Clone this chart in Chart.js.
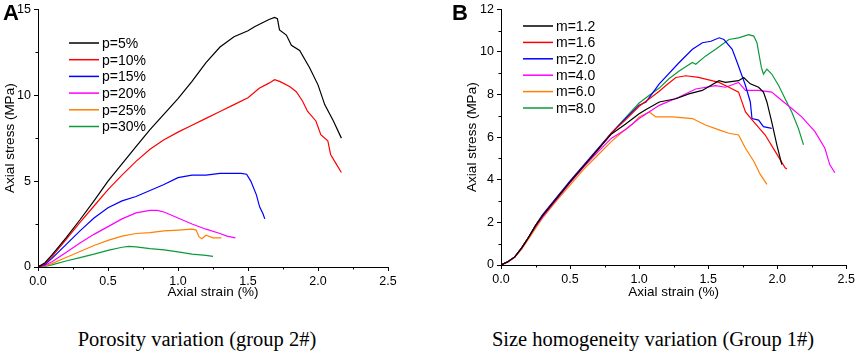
<!DOCTYPE html>
<html>
<head>
<meta charset="utf-8">
<script src="https://cdn.jsdelivr.net/npm/chart.js@4.4.1/dist/chart.umd.min.js"></script>
<style>
  body { margin: 0; background: #fff; width: 858px; height: 357px; overflow: hidden; position: relative; }
  .box { position: absolute; top: 0; height: 302px; }
  .tag { position: absolute; font: bold 22px "Liberation Sans", Arial, sans-serif; line-height: 1; }
  .cap { position: absolute; top: 328px; font: 20.5px "Liberation Serif", "Times New Roman", serif; white-space: nowrap; transform: translateX(-50%); }
</style>
</head>
<body>
<div class="box" style="left:0;width:425px"><canvas id="chartA"></canvas></div>
<div class="box" style="left:462px;width:396px"><canvas id="chartB"></canvas></div>
<div class="tag" style="left:3px;top:2px">A</div>
<div class="tag" style="left:452px;top:2px">B</div>
<div class="cap" style="left:197px">Porosity variation (group 2#)</div>
<div class="cap" style="left:653px">Size homogeneity variation (Group 1#)</div>
<script>
// panel A - porosity
const labelsA = ['p=5%', 'p=10%', 'p=15%', 'p=20%', 'p=25%', 'p=30%'];
const strainP5 = [0, 0.05, 0.1, 0.2, 0.3, 0.4, 0.5, 0.6, 0.7, 0.8, 0.9, 1.0, 1.1, 1.2, 1.3, 1.4, 1.5, 1.55, 1.6, 1.65, 1.69, 1.71, 1.725, 1.774, 1.81, 1.869, 1.94, 2.0, 2.048, 2.11, 2.167];
const stressP5 = [0, 0.25, 0.7, 1.7, 2.75, 3.85, 5.0, 6.0, 7.0, 8.0, 8.9, 9.8, 10.8, 11.9, 12.8, 13.4, 13.75, 14.0, 14.2, 14.4, 14.52, 14.45, 13.8, 13.5, 12.9, 12.6, 11.6, 10.6, 9.45, 8.5, 7.5];
const strainP10 = [0, 0.05, 0.1, 0.2, 0.3, 0.4, 0.5, 0.6, 0.7, 0.8, 0.9, 1.0, 1.1, 1.2, 1.3, 1.4, 1.5, 1.58, 1.65, 1.69, 1.726, 1.797, 1.845, 1.89, 1.926, 1.985, 2.02, 2.07, 2.09, 2.13, 2.167];
const stressP10 = [0, 0.2, 0.6, 1.6, 2.6, 3.55, 4.5, 5.35, 6.15, 6.85, 7.4, 7.85, 8.25, 8.65, 9.05, 9.45, 9.85, 10.4, 10.7, 10.9, 10.8, 10.5, 10.2, 9.65, 9.05, 8.5, 7.7, 7.35, 6.55, 6.0, 5.5];
const strainP15 = [0, 0.05, 0.1, 0.2, 0.3, 0.4, 0.5, 0.6, 0.7, 0.8, 0.9, 1.0, 1.1, 1.2, 1.3, 1.4, 1.45, 1.49, 1.52, 1.56, 1.583, 1.607, 1.62];
const stressP15 = [0, 0.15, 0.5, 1.3, 2.1, 2.85, 3.45, 3.85, 4.1, 4.45, 4.8, 5.2, 5.35, 5.35, 5.45, 5.45, 5.45, 5.4, 5.0, 4.2, 3.5, 3.1, 2.8];
const strainP20 = [0, 0.05, 0.1, 0.2, 0.3, 0.4, 0.5, 0.6, 0.7, 0.8, 0.85, 0.9, 1.0, 1.1, 1.2, 1.3, 1.35, 1.41];
const stressP20 = [0, 0.1, 0.3, 0.85, 1.4, 1.9, 2.35, 2.8, 3.15, 3.3, 3.3, 3.2, 2.85, 2.5, 2.2, 1.95, 1.8, 1.7];
const strainP25 = [0, 0.05, 0.1, 0.2, 0.3, 0.4, 0.5, 0.6, 0.7, 0.8, 0.9, 1.0, 1.1, 1.13, 1.15, 1.17, 1.2, 1.25, 1.31];
const stressP25 = [0, 0.07, 0.2, 0.55, 0.9, 1.25, 1.55, 1.8, 1.95, 2.0, 2.1, 2.15, 2.2, 2.15, 1.75, 1.65, 1.85, 1.7, 1.7];
const strainP30 = [0, 0.05, 0.1, 0.2, 0.3, 0.4, 0.5, 0.6, 0.65, 0.7, 0.8, 0.9, 1.0, 1.1, 1.2, 1.25];
const stressP30 = [0, 0.04, 0.12, 0.35, 0.55, 0.75, 0.97, 1.15, 1.2, 1.17, 1.07, 1.0, 0.88, 0.75, 0.68, 0.62];

// panel B - size homogeneity
const labelsB = ['m=1.2', 'm=1.6', 'm=2.0', 'm=4.0', 'm=6.0', 'm=8.0'];
const strainM12 = [0, 0.05, 0.1, 0.15, 0.2, 0.25, 0.3, 0.4, 0.5, 0.6, 0.7, 0.8, 0.9, 1.0, 1.05, 1.146, 1.266, 1.36, 1.457, 1.578, 1.625, 1.72, 1.757, 1.805, 1.865, 1.9, 1.925, 1.96, 1.997, 2.033];
const stressM12 = [0, 0.15, 0.38, 0.8, 1.3, 1.85, 2.3, 3.1, 3.9, 4.65, 5.4, 6.15, 6.6, 7.1, 7.3, 7.65, 7.8, 8.03, 8.19, 8.65, 8.57, 8.65, 8.8, 8.5, 8.34, 8.11, 7.65, 6.72, 5.64, 4.71];
const strainM16 = [0, 0.05, 0.1, 0.15, 0.2, 0.25, 0.3, 0.4, 0.5, 0.6, 0.7, 0.8, 0.9, 1.0, 1.074, 1.146, 1.194, 1.266, 1.338, 1.43, 1.578, 1.65, 1.72, 1.77, 1.83, 1.913, 1.985, 2.057, 2.07];
const stressM16 = [0, 0.15, 0.38, 0.8, 1.3, 1.85, 2.3, 3.1, 3.9, 4.65, 5.4, 6.2, 6.8, 7.45, 7.8, 8.15, 8.42, 8.8, 8.88, 8.8, 8.57, 8.34, 8.11, 7.18, 6.72, 6.1, 5.33, 4.56, 4.5];
const strainM20 = [0, 0.05, 0.1, 0.15, 0.2, 0.25, 0.3, 0.4, 0.5, 0.6, 0.7, 0.8, 0.9, 1.0, 1.05, 1.146, 1.29, 1.386, 1.458, 1.52, 1.58, 1.614, 1.674, 1.71, 1.77, 1.805, 1.817, 1.865, 1.9, 1.96];
const stressM20 = [0, 0.15, 0.38, 0.8, 1.3, 1.85, 2.35, 3.15, 3.95, 4.7, 5.45, 6.2, 6.85, 7.5, 7.65, 8.5, 9.5, 10.12, 10.43, 10.5, 10.66, 10.58, 10.12, 9.5, 8.42, 7.65, 6.87, 6.8, 6.49, 6.41];
const strainM40 = [0, 0.05, 0.1, 0.15, 0.2, 0.25, 0.3, 0.4, 0.5, 0.6, 0.7, 0.8, 0.9, 1.0, 1.146, 1.29, 1.41, 1.554, 1.625, 1.72, 1.77, 1.865, 1.96, 2.033, 2.105, 2.177, 2.273, 2.345, 2.38, 2.417];
const stressM40 = [0, 0.15, 0.38, 0.8, 1.3, 1.8, 2.25, 3.05, 3.85, 4.6, 5.3, 5.95, 6.35, 6.87, 7.49, 7.88, 8.26, 8.42, 8.34, 8.57, 8.19, 8.19, 8.11, 7.72, 7.34, 6.95, 6.26, 5.48, 4.71, 4.33];
const strainM60 = [0, 0.05, 0.1, 0.15, 0.2, 0.25, 0.3, 0.4, 0.5, 0.6, 0.7, 0.8, 0.882, 0.95, 1.0, 1.074, 1.12, 1.242, 1.386, 1.48, 1.578, 1.65, 1.72, 1.77, 1.83, 1.877, 1.925];
const stressM60 = [0, 0.15, 0.36, 0.75, 1.22, 1.72, 2.2, 3.0, 3.75, 4.5, 5.15, 5.8, 6.26, 6.6, 6.95, 7.18, 6.95, 6.95, 6.87, 6.57, 6.34, 6.18, 6.1, 5.48, 4.87, 4.25, 3.78];
const strainM80 = [0, 0.05, 0.1, 0.15, 0.2, 0.25, 0.3, 0.4, 0.5, 0.6, 0.7, 0.8, 0.9, 1.0, 1.074, 1.146, 1.218, 1.29, 1.385, 1.41, 1.48, 1.554, 1.65, 1.72, 1.793, 1.83, 1.853, 1.87, 1.885, 1.9, 1.925, 1.96, 2.01, 2.057, 2.105, 2.153, 2.19];
const stressM80 = [0, 0.15, 0.38, 0.8, 1.3, 1.85, 2.3, 3.1, 3.9, 4.65, 5.4, 6.2, 6.9, 7.6, 7.96, 8.3, 8.75, 9.1, 9.5, 9.42, 9.8, 10.12, 10.58, 10.66, 10.81, 10.74, 10.43, 9.81, 9.27, 8.96, 9.19, 8.96, 8.42, 7.8, 7.18, 6.41, 5.64];

const colors = ['#000000', '#ff0000', '#0000ff', '#ff00ff', '#ff8000', '#0a9a3a'];
const xTicks = ['0.0', '0.5', '1.0', '1.5', '2.0', '2.5'];

const FONT = '"Liberation Sans", Arial, sans-serif';

function pairs(xs, ys) {
  return xs.map((x, i) => ({ x: x, y: ys[i] }));
}

function makeSets(labels, series) {
  return series.map((s, i) => ({
    label: labels[i],
    data: pairs(s[0], s[1]),
    showLine: true,
    borderColor: colors[i],
    backgroundColor: colors[i],
    borderWidth: 1.2,
    pointRadius: 0,
    tension: 0
  }));
}

// legend drawn inside the plot
const insideLegend = {
  id: 'insideLegend',
  afterDatasetsDraw(chart, args, opts) {
    const ctx = chart.ctx;
    ctx.save();
    ctx.font = '14px ' + FONT;
    ctx.textBaseline = 'middle';
    chart.data.datasets.forEach((ds, i) => {
      const y = opts.y + i * opts.dy;
      ctx.strokeStyle = ds.borderColor;
      ctx.lineWidth = 1.5;
      ctx.beginPath();
      ctx.moveTo(opts.x, y);
      ctx.lineTo(opts.x + 30, y);
      ctx.stroke();
      ctx.fillStyle = '#000';
      ctx.fillText(ds.label, opts.x + 33, y + 1);
    });
    ctx.restore();
  }
};

// small in-between ticks
const minorTicks = {
  id: 'minorTicks',
  afterDraw(chart, args, opts) {
    const ctx = chart.ctx;
    const xs = chart.scales.x, ys = chart.scales.y;
    ctx.save();
    ctx.strokeStyle = '#000';
    ctx.lineWidth = 1;
    ctx.beginPath();
    for (let v = opts.xMinor; v < xs.max; v += opts.xMinor * 2) {
      const px = Math.round(xs.getPixelForValue(v)) + 0.5;
      ctx.moveTo(px, xs.top);
      ctx.lineTo(px, xs.top + 2.5);
    }
    for (let v = opts.yMinor; v < ys.max; v += opts.yMinor * 2) {
      const py = Math.round(ys.getPixelForValue(v)) + 0.5;
      ctx.moveTo(ys.right, py);
      ctx.lineTo(ys.right - 2.5, py);
    }
    ctx.stroke();
    ctx.restore();
  }
};

function makeChart(id, sets, yMax, yStep, axisW, axisH, pad, legend) {
  return new Chart(document.getElementById(id), {
    type: 'scatter',
    data: { datasets: sets },
    options: {
      responsive: true,
      maintainAspectRatio: false,
      animation: false,
      layout: { padding: pad },
      plugins: {
        legend: { display: false },
        tooltip: { enabled: false },
        insideLegend: legend,
        minorTicks: { xMinor: 0.25, yMinor: yStep / 2 }
      },
      scales: {
        x: {
          type: 'linear',
          min: 0, max: 2.5,
          afterFit: s => { s.height = axisH; },
          border: { display: true, color: '#000', width: 1 },
          grid: { drawOnChartArea: false, drawTicks: true, tickLength: 4, color: '#000' },
          ticks: { stepSize: 0.5, color: '#000', padding: 3, font: { family: FONT, size: 12.5 },
                   callback: v => xTicks[Math.round(v / 0.5)] },
          title: { display: true, text: 'Axial strain (%)', color: '#000', padding: { top: 1, bottom: 2 },
                   font: { family: FONT, size: 13.5 } }
        },
        y: {
          min: 0, max: yMax,
          afterFit: s => { s.width = axisW; },
          border: { display: true, color: '#000', width: 1 },
          grid: { drawOnChartArea: false, drawTicks: true, tickLength: 4, color: '#000' },
          ticks: { stepSize: yStep, color: '#000', padding: 3, font: { family: FONT, size: 12.5, lineHeight: 1 } },
          title: { display: true, text: 'Axial stress (MPa)', color: '#000', padding: { top: 2, bottom: 2 },
                   font: { family: FONT, size: 13.5 } }
        }
      }
    },
    plugins: [insideLegend, minorTicks]
  });
}

makeChart('chartA',
  makeSets(labelsA, [[strainP5, stressP5], [strainP10, stressP10], [strainP15, stressP15],
                     [strainP20, stressP20], [strainP25, stressP25], [strainP30, stressP30]]),
  15, 5, 38, 35, { top: 7, right: 37, left: 0, bottom: 0 },
  { x: 69, y: 43, dy: 16.7 });

makeChart('chartB',
  makeSets(labelsB, [[strainM12, stressM12], [strainM16, stressM16], [strainM20, stressM20],
                     [strainM40, stressM40], [strainM60, stressM60], [strainM80, stressM80]]),
  12, 2, 39, 37, { top: 6, right: 9.7, left: 0, bottom: 0 },
  { x: 61, y: 26, dy: 16.4 });
</script>
</body>
</html>
